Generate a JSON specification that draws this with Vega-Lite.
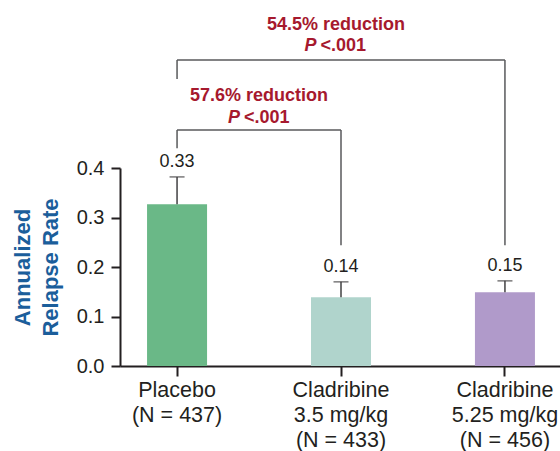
{
  "$schema": "https://vega.github.io/schema/vega-lite/v6.json",
  "autosize": {"type": "none"},
  "padding": {"left": 120, "top": 168, "right": 0, "bottom": 85},
  "width": 442,
  "height": 198,
  "background": "white",
  "config": {"view": {"stroke": null}, "font": "Liberation Sans"},
  "datasets": {
    "bars": [
      {"group": "Placebo|(N = 437)", "arr": 0.327, "upper": 0.382},
      {"group": "Cladribine|3.5 mg/kg|(N = 433)", "arr": 0.139, "upper": 0.170},
      {"group": "Cladribine|5.25 mg/kg|(N = 456)", "arr": 0.149, "upper": 0.172}
    ],
    "brackets": [
      {"x": 0, "x2": 0, "y": 0.440, "y2": 0.477},
      {"x": 0, "x2": 1, "y": 0.477, "y2": 0.477},
      {"x": 1, "x2": 1, "y": 0.477, "y2": 0.244},
      {"x": 0, "x2": 0, "y": 0.580, "y2": 0.618},
      {"x": 0, "x2": 2, "y": 0.618, "y2": 0.618},
      {"x": 2, "x2": 2, "y": 0.618, "y2": 0.244}
    ],
    "notes": [
      {"x": 0.5, "y": 0.545, "text": "57.6% reduction"},
      {"x": 0.97, "y": 0.689, "text": "54.5% reduction"}
    ],
    "pvals": [
      {"x": 0.396, "y": 0.501},
      {"x": 0.863, "y": 0.646}
    ]
  },
  "layer": [
    {
      "data": {"name": "bars"},
      "encoding": {
        "x": {
          "field": "group",
          "type": "nominal",
          "sort": null,
          "scale": {"paddingInner": 0.634, "paddingOuter": 0.165},
          "axis": {
            "title": null,
            "labelAngle": 0,
            "labelExpr": "split(datum.label, '|')",
            "labelFontSize": 21.5,
            "labelColor": "#231f20",
            "labelLineHeight": 25,
            "labelPadding": 3,
            "labelBaseline": "top",
            "labelOverlap": false,
            "labelBound": false,
            "labelLimit": 0,
            "tickSize": 10,
            "tickWidth": 2,
            "tickColor": "#231f20",
            "domainColor": "#231f20",
            "domainWidth": 2
          }
        }
      },
      "layer": [
        {
          "mark": {"type": "bar"},
          "encoding": {
            "y": {
              "field": "arr",
              "type": "quantitative",
              "scale": {"domain": [0, 0.4], "nice": false},
              "axis": {
                "values": [0, 0.1, 0.2, 0.3, 0.4],
                "format": ".1f",
                "grid": false,
                "labelFontSize": 20,
                "labelColor": "#231f20",
                "labelPadding": 7,
                "tickSize": 9,
                "tickWidth": 2,
                "tickColor": "#231f20",
                "domainColor": "#231f20",
                "domainWidth": 2,
                "title": ["Annualized", "Relapse Rate"],
                "titleFontSize": 22,
                "titleFontWeight": "bold",
                "titleColor": "#1b5e9b",
                "titleLineHeight": 28,
                "titlePadding": 14
              }
            },
            "color": {
              "field": "group",
              "type": "nominal",
              "scale": {
                "domain": ["Placebo|(N = 437)", "Cladribine|3.5 mg/kg|(N = 433)", "Cladribine|5.25 mg/kg|(N = 456)"],
                "range": ["#6ab887", "#b0d4cc", "#b09aca"]
              },
              "legend": null
            }
          }
        },
        {
          "mark": {"type": "rule", "color": "#414042", "strokeWidth": 1.5},
          "encoding": {
            "y": {"field": "arr", "type": "quantitative", "scale": {"domain": [0, 0.4], "nice": false}},
            "y2": {"field": "upper"}
          }
        },
        {
          "mark": {"type": "tick", "color": "#414042", "thickness": 1.5, "size": 15},
          "encoding": {
            "y": {"field": "upper", "type": "quantitative", "scale": {"domain": [0, 0.4], "nice": false}}
          }
        },
        {
          "mark": {"type": "text", "baseline": "bottom", "dy": -6, "fontSize": 18, "color": "#231f20"},
          "encoding": {
            "y": {"field": "upper", "type": "quantitative", "scale": {"domain": [0, 0.4], "nice": false}},
            "text": {"field": "arr", "type": "quantitative", "format": ".2f"}
          }
        }
      ]
    },
    {
      "data": {"name": "brackets"},
      "mark": {"type": "rule", "color": "#58595b", "strokeWidth": 1.5},
      "encoding": {
        "x": {"field": "x", "type": "quantitative", "scale": {"domain": [-0.348, 2.348], "nice": false, "zero": false}, "axis": null},
        "x2": {"field": "x2"},
        "y": {"field": "y", "type": "quantitative", "scale": {"domain": [0, 0.4], "nice": false}},
        "y2": {"field": "y2"}
      }
    },
    {
      "data": {"name": "notes"},
      "mark": {"type": "text", "align": "center", "baseline": "middle", "fontSize": 18, "fontWeight": "bold", "color": "#a6192e"},
      "encoding": {
        "x": {"field": "x", "type": "quantitative", "scale": {"domain": [-0.348, 2.348], "nice": false, "zero": false}, "axis": null},
        "y": {"field": "y", "type": "quantitative", "scale": {"domain": [0, 0.4], "nice": false}},
        "text": {"field": "text"}
      }
    },
    {
      "data": {"name": "pvals"},
      "mark": {"type": "text", "align": "right", "baseline": "middle", "dx": -2, "fontSize": 18, "fontWeight": "bold", "fontStyle": "italic", "color": "#a6192e"},
      "encoding": {
        "x": {"field": "x", "type": "quantitative", "scale": {"domain": [-0.348, 2.348], "nice": false, "zero": false}, "axis": null},
        "y": {"field": "y", "type": "quantitative", "scale": {"domain": [0, 0.4], "nice": false}},
        "text": {"value": "P"}
      }
    },
    {
      "data": {"name": "pvals"},
      "mark": {"type": "text", "align": "left", "baseline": "middle", "dx": 2, "fontSize": 18, "fontWeight": "bold", "color": "#a6192e"},
      "encoding": {
        "x": {"field": "x", "type": "quantitative", "scale": {"domain": [-0.348, 2.348], "nice": false, "zero": false}, "axis": null},
        "y": {"field": "y", "type": "quantitative", "scale": {"domain": [0, 0.4], "nice": false}},
        "text": {"value": "<.001"}
      }
    }
  ],
  "resolve": {"scale": {"x": "independent"}}
}
